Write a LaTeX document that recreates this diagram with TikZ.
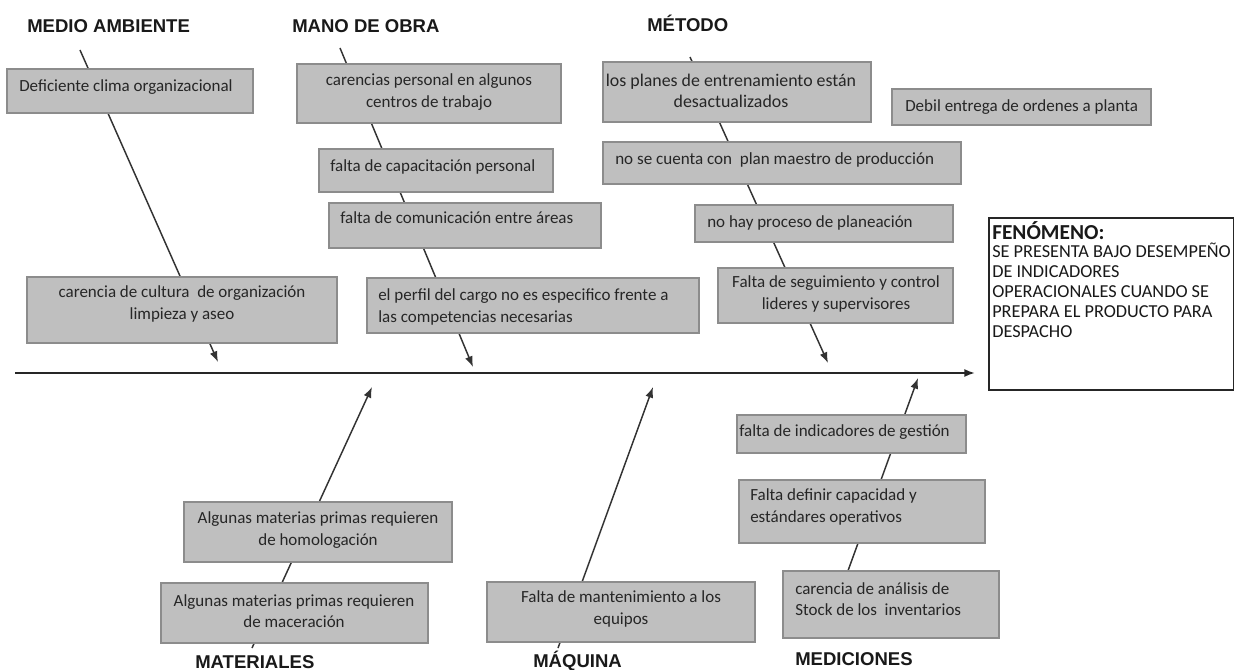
\documentclass[tikz,border=0pt]{standalone}
\usepackage{fontspec}
\setmainfont{Carlito}
\newfontfamily\headfont{Liberation Sans}
\usetikzlibrary{arrows.meta,fit}

% a grey cause box (#1 name, #2/#3 opposite corners) with its text node (#4 options, #5 text)
\newcommand\causebox[5]{%
  \node[causefill, fit={#2 #3}] (#1) {};
  \node[causetext, #4] (#1-t) {#5};
}

\begin{document}
\begin{tikzpicture}[x=0.75pt, y=-0.75pt,
  bone/.style={draw=black!80, line width=1.1pt, -{Latex[length=8pt,width=6pt]}},
  spine/.style={draw=black!85, line width=1.4pt, -{Latex[length=8pt,width=6pt]}},
  causefill/.style={draw=black!45, fill=black!25, line width=0.8pt, inner sep=0pt},
  causetext/.style={inner sep=0pt, text=black!85, font=\fontsize{12.75}{16}\selectfont},
  heading/.style={anchor=base west, inner sep=0pt, text=black!90,
    font=\headfont\bfseries\fontsize{13.9}{16}\selectfont},
]
\fill[white] (0,0) rectangle (1234,670);
\useasboundingbox (0,0) rectangle (1234,670);

% category headings
\node[heading] (h-ma) at (27,33) {MEDIO AMBIENTE};
\node[heading] (h-mo) at (292,33) {MANO DE OBRA};
\node[heading] (h-me) at (647,32) {MÉTODO};
\node[heading] (h-mt) at (195,668) {MATERIALES};
\node[heading] (h-mq) at (533,667) {MÁQUINA};
\node[heading] (h-md) at (795,665) {MEDICIONES};

% bone end points
\coordinate (spS) at (15,373);  \coordinate (spE) at (975,373);
\coordinate (maS) at (80,50);   \coordinate (maE) at (218,362);
\coordinate (moS) at (340,48);  \coordinate (moE) at (473,367);
\coordinate (meS) at (690,57);  \coordinate (meE) at (828,363);
\coordinate (mtS) at (252,648); \coordinate (mtE) at (372,387);
\coordinate (mqS) at (558,648); \coordinate (mqE) at (653,387);
\coordinate (mdS) at (841,590); \coordinate (mdE) at (918,378);

% spine and bones (boxes are laid over them)
\draw[spine] (spS) -- (spE);
\draw[bone] (maS) -- (maE);
\draw[bone] (moS) -- (moE);
\draw[bone] (meS) -- (meE);
\draw[bone] (mtS) -- (mtE);
\draw[bone] (mqS) -- (mqE);
\draw[bone] (mdS) -- (mdE);

% medio ambiente
\causebox{ma1}{(7,69)}{(253,113)}{anchor=west, at={(19,87)}}{Deficiente clima organizacional}
\causebox{ma2}{(27,277)}{(337,343)}{align=center, at={(182,304)}}{carencia de cultura\ \ de organización\\limpieza y aseo}

% mano de obra
\causebox{mo1}{(297,64)}{(561,123)}{align=center, at={(429,92)}}{carencias personal en algunos\\centros de trabajo}
\causebox{mo2}{(319,149)}{(553,192)}{anchor=west, at={(330,167)}}{falta de capacitación personal}
\causebox{mo3}{(329,203)}{(601,248)}{anchor=west, at={(340,218)}}{falta de comunicación entre áreas}
\causebox{mo4}{(367,278)}{(699,333)}{anchor=west, align=left, at={(378,307)}}{el perfil del cargo no es especifico frente a\\las competencias necesarias}

% metodo
\causebox{me1}{(603,62)}{(871,122)}{align=center, at={(731,91)}, font=\fontsize{13.4}{16}\selectfont}{los planes de entrenamiento están\\desactualizados}
\causebox{me2}{(603,142)}{(961,184)}{anchor=west, at={(615,160)}, font=\fontsize{12.8}{16}\selectfont}{no se cuenta con\ \ plan maestro de producción}
\causebox{me3}{(892,89)}{(1151,125)}{anchor=west, at={(905,107)}}{Debil entrega de ordenes a planta}
\causebox{me4}{(695,205)}{(953,242)}{anchor=west, at={(707,223)}}{no hay proceso de planeación}
\causebox{me5}{(718,268)}{(953,323)}{align=center, at={(836,294)}}{Falta de seguimiento y control\\lideres y supervisores}

% materiales
\causebox{mt1}{(184,502)}{(452,562)}{align=center, at={(318,530)}}{Algunas materias primas requieren\\de homologación}
\causebox{mt2}{(161,583)}{(428,643)}{align=center, at={(294,611)}}{Algunas materias primas requieren\\de maceración}

% maquina
\causebox{mq1}{(487,582)}{(755,642)}{align=center, at={(621,609)}}{Falta de mantenimiento a los\\equipos}

% mediciones
\causebox{md1}{(737,415)}{(966,453)}{anchor=west, at={(739,432)}}{falta de indicadores de gestión}
\causebox{md2}{(739,480)}{(985,543)}{anchor=west, align=left, at={(750,507)}}{Falta definir capacidad y\\estándares operativos}
\causebox{md3}{(783,571)}{(999,638)}{anchor=west, align=left, at={(795,599)}}{carencia de análisis de\\Stock de los\ \ inventarios}

% effect box
\node[draw=black!85, line width=1pt, fill=white, inner sep=0pt, fit={(989,218) (1234,390)}] (phen) {};
\node[anchor=north west, align=left, inner sep=0pt, text=black!90,
      font=\fontsize{13.7}{15}\selectfont] (phen-t) at (992,221)
  {{\bfseries\fontsize{16}{15}\selectfont FENÓMENO:}\\[-1pt]
   SE PRESENTA BAJO DESEMPEÑO\\
   DE INDICADORES\\
   OPERACIONALES CUANDO SE\\
   PREPARA EL PRODUCTO PARA\\
   DESPACHO};
\end{tikzpicture}
\end{document}
